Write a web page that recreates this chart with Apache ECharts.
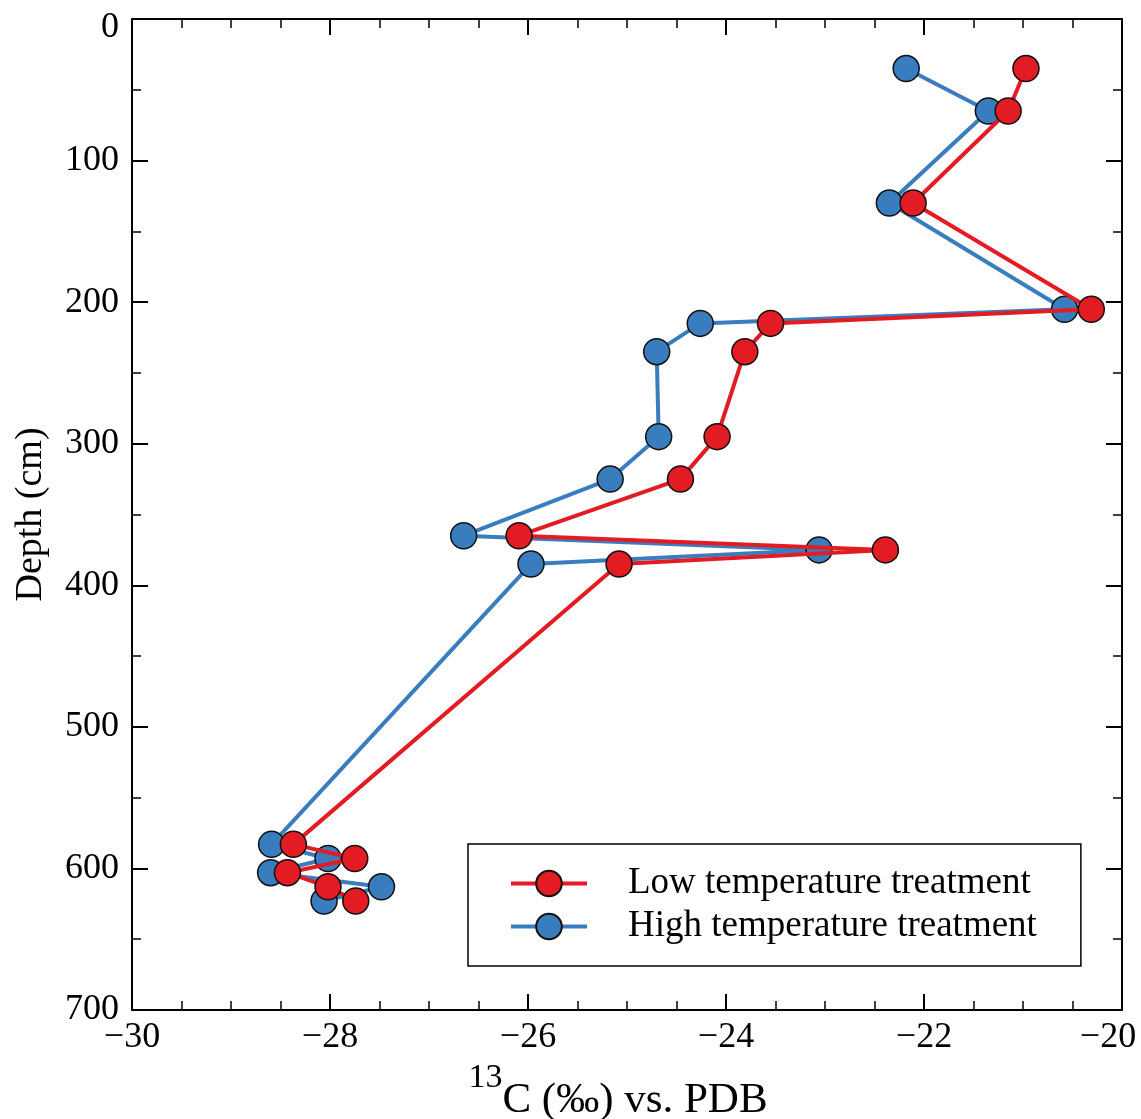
<!DOCTYPE html>
<html>
<head>
<meta charset="utf-8">
<script src="https://cdn.jsdelivr.net/npm/echarts@6/dist/echarts.min.js"></script>
<style>
html,body{margin:0;padding:0;background:#fff;}
#chart{width:1141px;height:1119px;}
</style>
</head>
<body>
<div id="chart"></div>
<script>
// Data
const depths = [35, 65, 130, 205, 215, 235, 295, 325, 365, 375, 385, 583, 593, 603, 613, 623];
const lowTemp = [-20.97, -21.15, -22.11, -20.31, -23.55, -23.81, -24.09, -24.46, -26.09, -22.39, -25.08, -28.37, -27.75, -28.43, -28.02, -27.74];
const highTemp = [-22.18, -21.35, -22.35, -20.58, -24.26, -24.70, -24.68, -25.17, -26.65, -23.06, -25.97, -28.59, -28.02, -28.60, -27.48, -28.06];
const seriesNames = ['Low temperature treatment', 'High temperature treatment'];
const xTicks = [-30, -28, -26, -24, -22, -20];
const yTicks = [0, 100, 200, 300, 400, 500, 600, 700];

const RED = '#e31b23';
const BLUE = '#3a7dbf';
const FONT = '"Liberation Serif", "Times New Roman", Times, serif';

const toPairs = (xs) => xs.map((v, i) => [v, depths[i]]);

const axisLine = { show: true, onZero: false, lineStyle: { color: '#000', width: 2 } };
const axisTick = { show: true, inside: true, length: 16, lineStyle: { color: '#000', width: 2 } };
const minorStyle = { show: true, length: 9, lineStyle: { color: '#000', width: 1.5 } };

const xMax = xTicks[xTicks.length - 1];
const yMin = yTicks[0];

const chart = echarts.init(document.getElementById('chart'), null, { renderer: 'canvas' });
chart.setOption({
  animation: false,
  backgroundColor: '#fff',
  textStyle: { fontFamily: FONT, color: '#000' },
  grid: { left: 132, right: 19, top: 19, bottom: 109, containLabel: false, outerBoundsMode: 'none' },
  xAxis: [
    {
      type: 'value', position: 'bottom',
      min: xTicks[0], max: xMax, interval: 2,
      axisLine: axisLine, axisTick: axisTick, splitLine: { show: false },
      minorTick: Object.assign({}, minorStyle, { splitNumber: 4 }),
      axisLabel: {
        color: '#000', fontFamily: FONT, fontSize: 36, margin: 10,
        formatter: (v) => {
          const s = v < 0 ? '\u2212' + Math.abs(v) : String(v);
          return v === xMax ? '{edge|' + s + '}' : s;
        },
        rich: { edge: { fontFamily: FONT, fontSize: 36, color: '#000', padding: [0, 28, 0, 0] } }
      },
      name: '{sup|13}{base|C (\u2030) vs. PDB}',
      nameLocation: 'middle', nameGap: 47,
      nameTextStyle: {
        fontFamily: FONT,
        rich: {
          sup: { fontFamily: FONT, fontSize: 34, color: '#000', verticalAlign: 'top', padding: [0, 0, 20, 0] },
          base: { fontFamily: FONT, fontSize: 43, color: '#000', padding: [18, 18, 0, 0] }
        }
      }
    },
    {
      type: 'value', position: 'top',
      min: xTicks[0], max: xMax, interval: 2,
      axisLine: axisLine, axisTick: axisTick, splitLine: { show: false },
      minorTick: Object.assign({}, minorStyle, { splitNumber: 4 }),
      axisLabel: { show: false }
    }
  ],
  yAxis: [
    {
      type: 'value', position: 'left', inverse: true,
      min: yMin, max: yTicks[yTicks.length - 1], interval: 100,
      axisLine: axisLine, axisTick: axisTick, splitLine: { show: false },
      minorTick: Object.assign({}, minorStyle, { splitNumber: 2 }),
      axisLabel: {
        color: '#000', fontFamily: FONT, fontSize: 36, margin: 13,
        formatter: (v) => (v === yMin ? '{edge|' + v + '}' : String(v)),
        rich: { edge: { fontFamily: FONT, fontSize: 36, color: '#000', padding: [18, 0, 0, 0] } }
      },
      name: 'Depth (cm)', nameLocation: 'middle', nameGap: 82, nameRotate: 90,
      nameTextStyle: { fontFamily: FONT, fontSize: 38, color: '#000' }
    },
    {
      type: 'value', position: 'right', inverse: true,
      min: yMin, max: yTicks[yTicks.length - 1], interval: 100,
      axisLine: axisLine, axisTick: axisTick, splitLine: { show: false },
      minorTick: Object.assign({}, minorStyle, { splitNumber: 2 }),
      axisLabel: { show: false }
    }
  ],
  legend: {
    data: seriesNames,
    orient: 'vertical',
    left: 468, top: 844,
    padding: [21, 44, 21, 41],
    itemWidth: 76, itemHeight: 32,
    itemGap: 6,
    borderColor: '#000', borderWidth: 1.5,
    lineStyle: { width: 4 },
    textStyle: { fontFamily: FONT, fontSize: 37, color: '#000', padding: [0, 0, 0, 36] }
  },
  series: [
    {
      name: seriesNames[1], type: 'line', xAxisIndex: 0, yAxisIndex: 0,
      data: toPairs(highTemp),
      symbol: 'circle', symbolSize: 26,
      lineStyle: { color: BLUE, width: 4 },
      itemStyle: { color: BLUE, borderColor: '#111', borderWidth: 1.5 },
      z: 2
    },
    {
      name: seriesNames[0], type: 'line', xAxisIndex: 0, yAxisIndex: 0,
      data: toPairs(lowTemp),
      symbol: 'circle', symbolSize: 26,
      lineStyle: { color: RED, width: 4 },
      itemStyle: { color: RED, borderColor: '#111', borderWidth: 1.5 },
      z: 3
    }
  ]
});
</script>
</body>
</html>
